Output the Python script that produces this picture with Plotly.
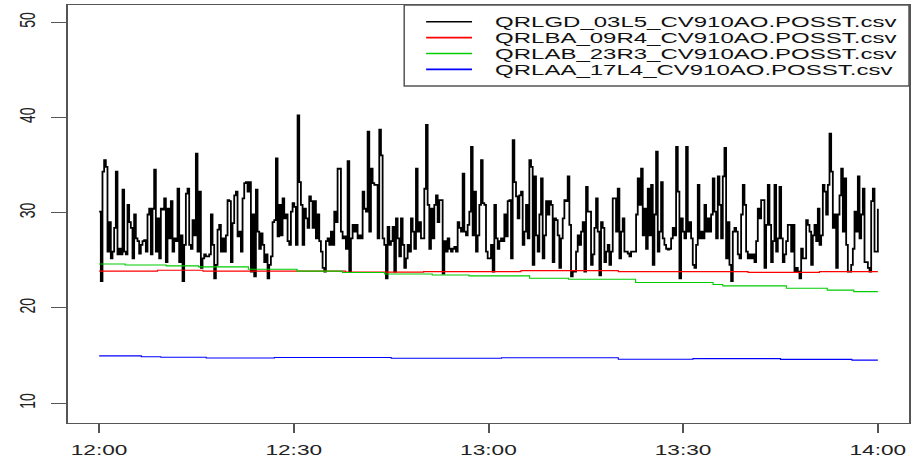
import pandas as pd
import plotly.graph_objects as go

DAY = "2016-03-14 "

# Series names (file names of the exported position readings)
series_names = [
    "QRLGD_03L5_CV910AO.POSST.csv",
    "QRLBA_09R4_CV910AO.POSST.csv",
    "QRLAB_23R3_CV910AO.POSST.csv",
    "QRLAA_17L4_CV910AO.POSST.csv",
]
series_colors = ["#000000", "#ff0000", "#00cd00", "#0000ff"]

# QRLGD_03L5: fast-moving valve position, 12:00 -> 13:00
gd03l5_hour1 = [
    30.1, 22.8, 34.3, 35.5, 34.8, 25.9, 29.0, 25.2, 25.9, 28.4,
    34.3, 25.6, 26.2, 25.6, 32.4, 25.9, 25.6, 30.8, 29.0, 28.4,
    25.2, 29.8, 27.3, 27.0, 25.7, 26.6, 27.0, 27.1, 25.9, 29.8,
    30.4, 25.6, 30.4, 34.5, 25.9, 29.4, 25.2, 30.4, 30.3, 31.5,
    24.8, 30.4, 27.3, 31.2, 25.9, 27.3, 27.0, 32.5, 24.8, 27.6,
    22.8, 26.6, 32.0, 32.5, 26.6, 26.2, 29.2, 27.6, 36.2, 25.9,
    32.2, 24.2, 25.2, 25.6, 25.4, 25.4, 25.6, 29.8, 26.6, 23.1,
    24.5, 28.2, 28.7, 25.9, 27.3, 25.9, 27.6, 31.3, 31.2, 24.8,
    28.9, 31.8, 32.2, 27.5, 28.0, 25.9, 31.5, 33.1, 33.2, 32.2,
    33.2, 23.8, 29.8, 23.3, 32.4, 28.0, 26.2, 27.8, 26.6, 24.8,
    25.6, 23.1, 24.5, 25.4, 29.0, 29.2, 35.7, 27.5, 30.8, 27.6,
    31.5, 29.4, 29.8, 27.0, 26.6, 30.1, 31.0, 30.6, 26.6, 40.2,
    33.2, 30.8, 26.6, 30.4, 29.4, 28.4, 31.7, 31.2, 28.4, 31.2,
    27.3, 29.8, 27.0, 25.9, 24.2, 23.8, 27.0, 27.3, 26.6, 28.0,
    26.6, 30.1, 29.0, 34.6, 34.6, 28.0, 27.3, 27.5, 26.2, 35.4,
    23.8, 27.3, 28.7, 28.0, 28.7, 27.3, 27.6, 27.3, 32.2, 30.4,
    30.1, 38.5, 28.0, 34.6, 33.1, 32.9, 32.9, 27.3, 38.7, 36.0,
    27.3, 26.6, 23.1, 28.5, 26.6, 27.0, 28.5, 23.8, 29.4, 27.3,
    25.4, 29.4, 26.6, 24.2, 25.2, 26.6, 25.9, 29.4, 28.0, 26.2,
    34.6, 28.0, 29.0, 27.3, 27.3, 32.5, 39.2, 30.8, 26.2, 30.4,
    27.3, 30.8, 31.8, 29.0, 31.3, 31.3, 23.6, 27.0, 25.9, 27.3,
    26.2, 25.9, 26.2, 26.4, 25.9, 29.0, 28.4, 28.0, 34.1, 28.0,
    27.6, 28.7, 30.1, 36.9, 27.6, 32.2, 25.9, 27.6, 30.8, 35.5,
    31.0, 30.8, 25.9, 25.2, 25.2, 26.6, 23.8,
]

# QRLGD_03L5: 13:00 -> 14:00
gd03l5_hour2 = [
    30.8, 27.3, 26.2, 27.0, 27.3, 27.0, 29.8, 27.5, 31.2, 31.3,
    25.2, 37.6, 33.2, 31.7, 29.4, 31.8, 32.2, 26.6, 28.0, 30.8,
    27.3, 35.5, 34.8, 24.5, 33.8, 27.6, 25.9, 29.8, 33.6, 25.2,
    27.6, 31.2, 29.8, 31.2, 30.8, 24.8, 29.4, 29.2, 27.6, 24.2,
    27.3, 29.4, 31.3, 31.2, 33.8, 28.7, 23.3, 23.8, 23.8, 25.9,
    27.6, 26.6, 28.0, 29.0, 23.8, 32.7, 30.1, 30.1, 24.5, 25.6,
    28.4, 31.5, 28.0, 23.4, 29.0, 28.4, 24.8, 25.9, 26.6, 24.5,
    25.9, 31.5, 31.5, 28.0, 32.5, 25.2, 28.0, 29.4, 25.9, 25.9,
    25.7, 25.4, 25.9, 25.9, 25.9, 29.8, 33.6, 30.8, 34.6, 27.6,
    30.4, 26.2, 32.5, 27.6, 32.9, 24.5, 29.8, 36.4, 25.9, 28.0,
    33.2, 27.3, 26.6, 26.2, 26.1, 26.2, 27.3, 28.4, 27.6, 36.9,
    32.2, 23.1, 29.4, 28.0, 27.3, 36.9, 28.0, 29.0, 27.3, 24.5,
    24.2, 26.6, 32.9, 27.3, 28.0, 27.3, 30.8, 28.0, 29.4, 28.0,
    29.8, 33.6, 30.1, 27.3, 33.8, 30.8, 27.3, 33.8, 36.8, 25.2,
    29.0, 24.5, 22.8, 28.0, 28.4, 28.0, 25.6, 25.2, 29.8, 32.9,
    30.8, 25.9, 25.2, 25.6, 25.2, 25.6, 24.8, 27.0, 30.4, 29.4,
    31.3, 31.3, 24.2, 28.7, 32.9, 28.7, 24.8, 27.0, 32.9, 25.9,
    27.3, 32.7, 27.3, 24.8, 25.6, 27.0, 28.7, 28.7, 25.9, 28.7,
    23.8, 24.2, 23.8, 23.1, 26.2, 25.2, 25.2, 29.2, 28.7, 28.0,
    24.5, 27.6, 28.7, 27.0, 30.4, 26.6, 27.6, 32.9, 32.2, 29.8,
    32.9, 38.3, 34.3, 28.4, 29.8, 24.2, 29.8, 31.8, 34.6, 28.0,
    33.6, 26.6, 23.8, 23.8, 24.5, 26.2, 30.1, 28.0, 33.8, 27.3,
    29.8, 32.5, 24.8, 24.8, 24.2, 23.8, 31.2, 32.5, 25.9, 25.9,
    30.4,
]

# Slow channels: value changes (time of change, new value)
ba09r4_times = ["12:00:00", "12:09:00", "12:16:00", "12:38:00", "12:50:00",
                "13:00:00", "13:05:00", "13:20:00", "13:40:00", "13:51:00", "14:00:00"]
ba09r4_vals = [23.85, 23.95, 23.85, 23.75, 23.8, 23.8, 23.9, 23.8, 23.72, 23.8, 23.8]

ab23r3_times = ["12:00:00", "12:04:00", "12:10:20", "12:15:20", "12:23:00",
                "12:30:30", "12:37:30", "12:44:00", "12:51:20", "12:57:00",
                "13:06:20", "13:12:20", "13:22:40", "13:34:36", "13:36:06",
                "13:45:54", "13:52:12", "13:56:18", "14:00:00"]
ab23r3_vals = [24.6, 24.5, 24.4, 24.3, 24.05, 23.85, 23.7, 23.55, 23.45, 23.35,
               23.1, 23.0, 22.65, 22.45, 22.3, 22.05, 21.85, 21.7, 21.7]

aa17l4_times = ["12:00:00", "12:06:30", "12:09:30", "12:16:30", "12:27:00",
                "12:45:00", "13:02:00", "13:20:00", "13:31:30", "13:45:00",
                "13:56:00", "14:00:00"]
aa17l4_vals = [14.95, 14.85, 14.8, 14.72, 14.78, 14.7, 14.75, 14.6, 14.66, 14.58,
               14.5, 14.5]

x_tick_labels = ["12:00", "12:30", "13:00", "13:30", "14:00"]
y_tick_values = [10, 20, 30, 40, 50]

# ---------------------------------------------------------------------------
gd_values = gd03l5_hour1 + gd03l5_hour2
gd_times = pd.date_range(DAY + "12:00:00", DAY + "14:00:00", periods=len(gd_values))


def stamps(times):
    return pd.to_datetime([DAY + t for t in times])


fig = go.Figure()
fig.add_trace(go.Scatter(x=gd_times, y=gd_values, mode="lines", line_shape="hv",
                         line=dict(color=series_colors[0], width=1.8),
                         name=series_names[0], showlegend=False))
for name, color, t, v in [
    (series_names[1], series_colors[1], ba09r4_times, ba09r4_vals),
    (series_names[2], series_colors[2], ab23r3_times, ab23r3_vals),
    (series_names[3], series_colors[3], aa17l4_times, aa17l4_vals),
]:
    fig.add_trace(go.Scatter(x=stamps(t), y=v, mode="lines", line_shape="hv",
                             line=dict(color=color, width=1.1),
                             name=name, showlegend=False))

# Figure geometry (pixels)
W, H = 912, 460
L, R, T, B = 68, 1, 5, 37
pw, ph = W - L - R, H - T - B


def px_x(x):
    return (x - L) / pw


def px_y(y):
    return (H - B - y) / ph


frame = "#555555"
font = "Liberation Sans, Arial, sans-serif"

# Legend box with line keys and labels
fig.add_shape(type="rect", xref="paper", yref="paper",
              x0=px_x(405), x1=1.0, y0=px_y(86), y1=1.0,
              line=dict(color=frame, width=1.5), fillcolor="white", layer="above")
rows = [21.7, 37.6, 53.5, 69.4]
for name, color, ry in zip(series_names, series_colors, rows):
    fig.add_shape(type="line", xref="paper", yref="paper",
                  x0=px_x(427), x1=px_x(473), y0=px_y(ry), y1=px_y(ry),
                  line=dict(color=color, width=1.6), layer="above")
    fig.add_annotation(xref="paper", yref="paper", x=px_x(494), y=px_y(ry),
                       text=name, showarrow=False, xanchor="left", yanchor="middle",
                       font=dict(family=font, size=15, color="#111111"))

fig.update_layout(
    width=W, height=H,
    margin=dict(l=L, r=R, t=T, b=B, pad=0),
    paper_bgcolor="white", plot_bgcolor="white",
    showlegend=False,
    xaxis=dict(
        type="date",
        range=[DAY + "11:55:12", DAY + "14:04:48"],
        tickvals=[DAY + t + ":00" for t in x_tick_labels],
        ticktext=x_tick_labels,
        ticks="outside", ticklen=9, tickwidth=2, tickcolor=frame,
        showline=True, linecolor=frame, linewidth=1, mirror=True,
        showgrid=False, zeroline=False,
        tickfont=dict(family=font, size=14, color="#222222"),
        ticklabelstandoff=5,
    ),
    yaxis=dict(
        range=[7.9, 51.8],
        tickvals=y_tick_values,
        ticks="outside", ticklen=15, tickwidth=1.2, tickcolor=frame,
        showline=True, linecolor=frame, linewidth=2, mirror=True,
        showgrid=False, zeroline=False, tickangle=-90,
        tickfont=dict(family=font, size=14, color="#222222"),
        ticklabelstandoff=13,
    ),
)

# Widen the text glyphs horizontally (the device this chart targets has
# non-square pixels), keeping each label anchored in place.
stretch_js = """
var gd = document.getElementById('{plot_id}');
function stretchX(el, k, anchorLeft) {
  var bb = el.getBBox();
  var tl = el.transform.baseVal;
  var m = (tl && tl.numberOfItems) ? tl.consolidate().matrix : null;
  var pts = [[bb.x, bb.y], [bb.x + bb.width, bb.y], [bb.x, bb.y + bb.height],
             [bb.x + bb.width, bb.y + bb.height]];
  var xs = pts.map(function (p) { return m ? m.a * p[0] + m.c * p[1] + m.e : p[0]; });
  var lo = Math.min.apply(null, xs), hi = Math.max.apply(null, xs);
  var cx = anchorLeft ? lo : (lo + hi) / 2;
  var old = el.getAttribute('transform') || '';
  el.setAttribute('transform', 'translate(' + cx + ',0) scale(' + k + ',1) translate(' + (-cx) + ',0) ' + old);
}
gd.querySelectorAll('.xtick text').forEach(function (el) { stretchX(el, 1.62, false); });
gd.querySelectorAll('.ytick text').forEach(function (el) { stretchX(el, 1.55, false); });
gd.querySelectorAll('.annotation-text').forEach(function (el) { stretchX(el, 1.6, true); });
"""

fig.write_html("out.html", post_script=stretch_js)
